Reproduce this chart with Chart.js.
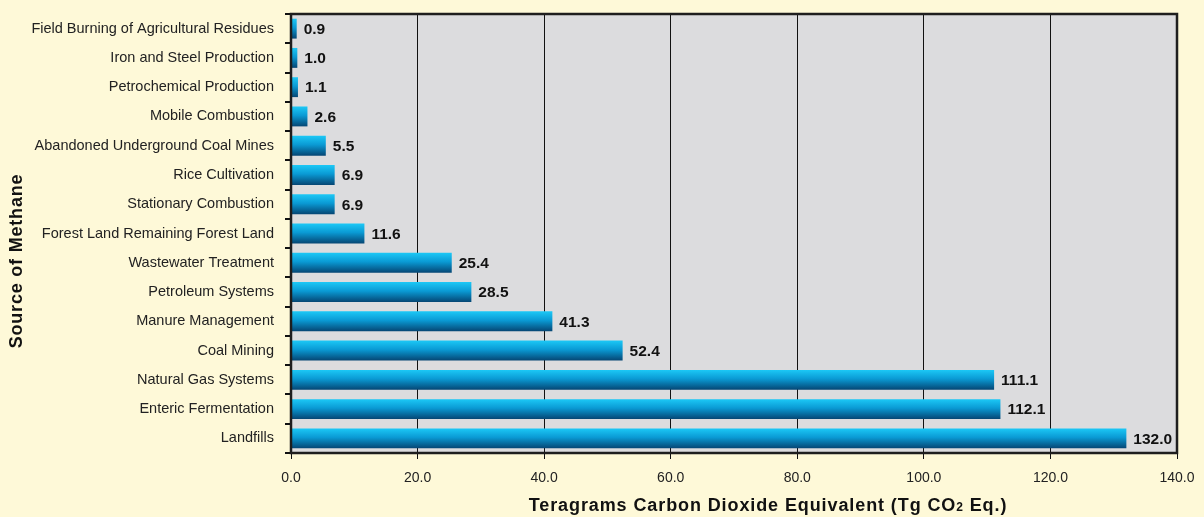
<!DOCTYPE html>
<html>
<head>
<meta charset="utf-8">
<script src="https://cdn.jsdelivr.net/npm/chart.js@4/dist/chart.umd.min.js"></script>
<style>
  html, body { margin: 0; padding: 0; background: #fef9d8; }
  #wrap { width: 1204px; height: 517px; }
</style>
</head>
<body>
<div id="wrap"><canvas id="methaneChart" width="1204" height="517"></canvas></div>
<script>
// data, top to bottom
const sources = [
  "Field Burning of Agricultural Residues",
  "Iron and Steel Production",
  "Petrochemical Production",
  "Mobile Combustion",
  "Abandoned Underground Coal Mines",
  "Rice Cultivation",
  "Stationary Combustion",
  "Forest Land Remaining Forest Land",
  "Wastewater Treatment",
  "Petroleum Systems",
  "Manure Management",
  "Coal Mining",
  "Natural Gas Systems",
  "Enteric Fermentation",
  "Landfills"
];
const emissions = [0.9, 1.0, 1.1, 2.6, 5.5, 6.9, 6.9, 11.6, 25.4, 28.5, 41.3, 52.4, 111.1, 112.1, 132.0];
const xTicks = [0, 20, 40, 60, 80, 100, 120, 140];

const BAR_PCT = 0.68;
const FONT = "'Liberation Sans', Arial, sans-serif";

// cylinder-like gradient for each bar
function barGradient(c) {
  const chart = c.chart;
  const y = chart.scales.y;
  if (!y || c.dataIndex === undefined || !chart.chartArea) return "#0a96d0";
  const mid = y.getPixelForValue(c.dataIndex);
  const h = (chart.chartArea.bottom - chart.chartArea.top) / sources.length * BAR_PCT;
  const g = chart.ctx.createLinearGradient(0, mid - h / 2, 0, mid + h / 2);
  g.addColorStop(0, "#1cc8f6");
  g.addColorStop(0.45, "#0a9ad4");
  g.addColorStop(1, "#054674");
  return g;
}

// gray plot area + dark frame
const plotFrame = {
  id: "plotFrame",
  beforeDraw(chart) {
    const { ctx, chartArea: a } = chart;
    ctx.save();
    ctx.fillStyle = "#dcdcde";
    ctx.fillRect(a.left, a.top, a.right - a.left, a.bottom - a.top);
    ctx.restore();
  },
  afterDraw(chart) {
    const { ctx, chartArea: a } = chart;
    ctx.save();
    ctx.strokeStyle = "#1e1e1e";
    ctx.lineWidth = 2.5;
    ctx.strokeRect(a.left, a.top, a.right - a.left, a.bottom - a.top);
    ctx.restore();
  }
};

// value labels at bar ends
const valueLabels = {
  id: "valueLabels",
  afterDatasetsDraw(chart) {
    const { ctx } = chart;
    const meta = chart.getDatasetMeta(0);
    ctx.save();
    ctx.font = "bold 15.5px " + FONT;
    ctx.fillStyle = "#111";
    ctx.textAlign = "left";
    ctx.textBaseline = "middle";
    meta.data.forEach((bar, i) => {
      ctx.fillText(emissions[i].toFixed(1), bar.x + 7, bar.y + 1);
    });
    ctx.restore();
  }
};

// axis titles (placed like the original, not centred on the plot)
const axisTitles = {
  id: "axisTitles",
  afterDraw(chart) {
    const { ctx } = chart;
    ctx.save();
    ctx.fillStyle = "#111";
    ctx.textBaseline = "middle";
    ctx.letterSpacing = "0.8px";

    // y title
    ctx.font = "bold 18px " + FONT;
    ctx.translate(17, 261);
    ctx.rotate(-Math.PI / 2);
    ctx.textAlign = "center";
    ctx.fillText("Source of Methane", 0, 0);
    ctx.setTransform(1, 0, 0, 1, 0, 0);

    // x title with subscript 2
    ctx.letterSpacing = "0.9px";
    const big = "bold 18px " + FONT;
    const small = "bold 12px " + FONT;
    const p1 = "Teragrams Carbon Dioxide Equivalent (Tg CO";
    const p2 = "2";
    const p3 = " Eq.)";
    ctx.font = big;
    const w1 = ctx.measureText(p1).width, w3 = ctx.measureText(p3).width;
    ctx.font = small;
    const w2 = ctx.measureText(p2).width;
    let x = 768 - (w1 + w2 + w3) / 2;
    const y = 506;
    ctx.textAlign = "left";
    ctx.font = big;
    ctx.fillText(p1, x, y);
    x += w1;
    ctx.font = small;
    ctx.fillText(p2, x, y + 2);
    x += w2;
    ctx.font = big;
    ctx.fillText(p3, x, y);
    ctx.restore();
  }
};

new Chart(document.getElementById("methaneChart"), {
  type: "bar",
  data: {
    labels: sources,
    datasets: [{
      data: emissions,
      backgroundColor: barGradient,
      borderWidth: 0,
      barPercentage: BAR_PCT,
      categoryPercentage: 1
    }]
  },
  options: {
    indexAxis: "y",
    responsive: false,
    animation: false,
    events: [],
    layout: { padding: { top: 14, right: 27, left: 0, bottom: 0 } },
    plugins: {
      legend: { display: false },
      tooltip: { enabled: false }
    },
    scales: {
      x: {
        min: 0,
        max: 140,
        afterBuildTicks(scale) {
          scale.ticks = xTicks.map(v => ({ value: v }));
        },
        afterFit(scale) {
          scale.height = 64;
          scale.paddingLeft = 0;
          scale.paddingRight = 0;
        },
        grid: { color: "#111", lineWidth: 1, tickLength: 6, tickColor: "#111" },
        border: { display: false },
        ticks: {
          color: "#222",
          padding: 11,
          font: { family: FONT, size: 14 },
          callback: v => v.toFixed(1)
        }
      },
      y: {
        afterFit(scale) {
          scale.width = 291;
          scale.paddingTop = 0;
          scale.paddingBottom = 0;
        },
        grid: { drawOnChartArea: false, offset: true, tickLength: 6, tickColor: "#111", lineWidth: 2 },
        border: { display: false },
        ticks: {
          color: "#222",
          padding: 11,
          autoSkip: false,
          font: { family: FONT, size: 14.5 }
        }
      }
    }
  },
  plugins: [plotFrame, valueLabels, axisTitles]
});
</script>
</body>
</html>
